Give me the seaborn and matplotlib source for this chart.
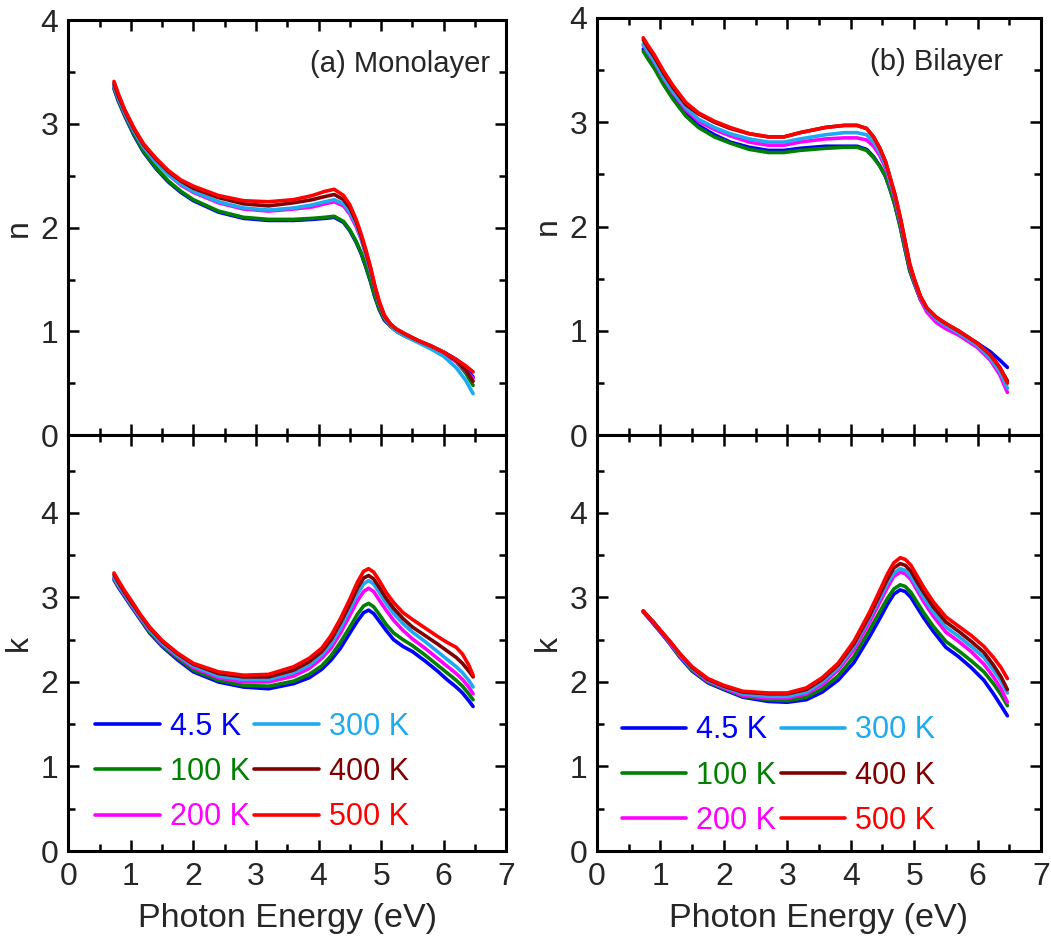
#!/usr/bin/env python3
"""
Temperature dependent n and k of monolayer / bilayer films
"""

import pandas as pd
import matplotlib
matplotlib.use("Agg")
import matplotlib.pyplot as plt
from matplotlib.ticker import MultipleLocator
import seaborn as sns

sns.set_theme(style="ticks")
plt.rcParams['font.family'] = ['Liberation Sans', 'DejaVu Sans']

TEMPS = ["4.5 K", "100 K", "200 K", "300 K", "400 K", "500 K"]
COLORS = ["#0000ff", "#008000", "#ff00ff", "#1eaaf1", "#800000", "#ff0000"]

# ---- (a) Monolayer, n ----
mono_n_x = [0.73, 0.8, 0.9, 1.05, 1.2, 1.4, 1.6, 1.8, 2.0, 2.4, 2.8, 3.2, 3.6, 3.9, 4.1, 4.25,
            4.4, 4.5, 4.6, 4.68, 4.75, 4.83, 4.9, 4.97, 5.05, 5.15, 5.25, 5.4, 5.6, 5.8,
            6.0, 6.2, 6.35, 6.47]
mono_n_4p5 = [3.34, 3.22, 3.08, 2.89, 2.73, 2.57, 2.44, 2.34, 2.26, 2.15, 2.09, 2.07, 2.07, 2.08,
              2.09, 2.10, 2.05, 1.97, 1.86, 1.75, 1.63, 1.48, 1.33, 1.21, 1.11, 1.05, 1.00,
              0.95, 0.90, 0.85, 0.80, 0.73, 0.65, 0.56]
mono_n_100 = [3.35, 3.23, 3.09, 2.90, 2.74, 2.58, 2.45, 2.35, 2.27, 2.16, 2.10, 2.08, 2.08, 2.09,
              2.10, 2.11, 2.06, 1.98, 1.87, 1.76, 1.64, 1.49, 1.34, 1.22, 1.12, 1.05, 1.00,
              0.95, 0.90, 0.85, 0.79, 0.71, 0.60, 0.48]
mono_n_200 = [3.37, 3.25, 3.11, 2.93, 2.78, 2.63, 2.51, 2.41, 2.34, 2.24, 2.18, 2.16, 2.18, 2.20,
              2.23, 2.25, 2.21, 2.13, 2.01, 1.89, 1.75, 1.58, 1.42, 1.27, 1.14, 1.06, 1.01,
              0.96, 0.90, 0.85, 0.79, 0.71, 0.62, 0.55]
mono_n_300 = [3.37, 3.25, 3.11, 2.93, 2.78, 2.63, 2.51, 2.42, 2.35, 2.25, 2.19, 2.17, 2.19, 2.22,
              2.25, 2.27, 2.23, 2.15, 2.03, 1.90, 1.76, 1.59, 1.42, 1.27, 1.14, 1.06, 1.00,
              0.95, 0.89, 0.83, 0.76, 0.65, 0.53, 0.40]
mono_n_400 = [3.39, 3.27, 3.13, 2.95, 2.80, 2.66, 2.54, 2.45, 2.38, 2.29, 2.23, 2.21, 2.24, 2.27,
              2.30, 2.32, 2.27, 2.19, 2.06, 1.92, 1.78, 1.61, 1.43, 1.28, 1.15, 1.07, 1.02,
              0.97, 0.91, 0.86, 0.80, 0.72, 0.63, 0.52]
mono_n_500 = [3.41, 3.29, 3.14, 2.96, 2.81, 2.67, 2.55, 2.46, 2.40, 2.31, 2.26, 2.25, 2.27, 2.31,
              2.35, 2.37, 2.31, 2.22, 2.08, 1.94, 1.80, 1.62, 1.44, 1.29, 1.16, 1.07, 1.02,
              0.97, 0.91, 0.86, 0.80, 0.73, 0.67, 0.61]

# ---- (a) Monolayer, k ----
mono_k_x = [0.73, 0.8, 0.9, 1.0, 1.15, 1.3, 1.5, 1.75, 2.0, 2.4, 2.8, 3.2, 3.6, 3.85, 4.05, 4.2,
            4.35, 4.5, 4.62, 4.72, 4.8, 4.88, 4.97, 5.08, 5.2, 5.35, 5.5, 5.7, 5.9, 6.05,
            6.2, 6.3, 6.4, 6.47]
mono_k_4p5 = [3.21, 3.12, 3.01, 2.90, 2.74, 2.58, 2.42, 2.26, 2.12, 2.00, 1.94, 1.92, 1.98, 2.05,
              2.15, 2.26, 2.40, 2.58, 2.72, 2.82, 2.85, 2.81, 2.72, 2.61, 2.50, 2.42, 2.36,
              2.25, 2.13, 2.03, 1.94, 1.87, 1.78, 1.71]
mono_k_100 = [3.22, 3.13, 3.02, 2.91, 2.75, 2.59, 2.43, 2.28, 2.14, 2.02, 1.96, 1.95, 2.01, 2.09,
              2.19, 2.31, 2.47, 2.65, 2.80, 2.90, 2.93, 2.89, 2.80, 2.68, 2.58, 2.50, 2.43,
              2.32, 2.20, 2.11, 2.02, 1.95, 1.86, 1.79]
mono_k_200 = [3.23, 3.14, 3.03, 2.92, 2.76, 2.61, 2.45, 2.30, 2.17, 2.05, 2.00, 2.00, 2.07, 2.16,
              2.28, 2.40, 2.58, 2.79, 2.96, 3.07, 3.11, 3.07, 2.97, 2.85, 2.73, 2.61, 2.51,
              2.40, 2.28, 2.19, 2.10, 2.03, 1.94, 1.86]
mono_k_300 = [3.24, 3.15, 3.04, 2.93, 2.77, 2.62, 2.46, 2.31, 2.19, 2.07, 2.03, 2.03, 2.11, 2.20,
              2.32, 2.45, 2.64, 2.86, 3.04, 3.16, 3.20, 3.16, 3.06, 2.93, 2.81, 2.69, 2.59,
              2.48, 2.36, 2.27, 2.18, 2.11, 2.02, 1.94]
mono_k_400 = [3.27, 3.18, 3.06, 2.95, 2.79, 2.64, 2.48, 2.33, 2.21, 2.10, 2.06, 2.06, 2.14, 2.24,
              2.36, 2.50, 2.70, 2.92, 3.11, 3.23, 3.26, 3.22, 3.12, 2.99, 2.87, 2.75, 2.65,
              2.55, 2.45, 2.37, 2.29, 2.22, 2.13, 2.06]
mono_k_500 = [3.29, 3.20, 3.08, 2.97, 2.80, 2.65, 2.49, 2.34, 2.22, 2.12, 2.08, 2.09, 2.18, 2.28,
              2.40, 2.55, 2.75, 2.98, 3.18, 3.31, 3.34, 3.30, 3.20, 3.06, 2.94, 2.82, 2.74,
              2.64, 2.54, 2.47, 2.41, 2.33, 2.20, 2.08]

# ---- (b) Bilayer, n ----
bi_n_x = [0.73, 0.8, 0.9, 1.05, 1.2, 1.4, 1.6, 1.85, 2.1, 2.4, 2.7, 2.95, 3.2, 3.6, 3.9, 4.1,
          4.25, 4.36, 4.46, 4.55, 4.63, 4.7, 4.78, 4.85, 4.93, 5.0, 5.1, 5.2, 5.35, 5.5,
          5.7, 6.0, 6.2, 6.35, 6.47]
bi_n_4p5 = [3.70, 3.63, 3.54, 3.38, 3.24, 3.08, 2.97, 2.88, 2.81, 2.76, 2.73, 2.73, 2.75, 2.77,
            2.77, 2.77, 2.74, 2.67, 2.58, 2.48, 2.34, 2.20, 2.00, 1.80, 1.58, 1.46, 1.30,
            1.20, 1.10, 1.04, 0.98, 0.88, 0.80, 0.72, 0.65]
bi_n_100 = [3.68, 3.61, 3.52, 3.36, 3.22, 3.06, 2.95, 2.86, 2.80, 2.74, 2.71, 2.71, 2.73, 2.75,
            2.76, 2.76, 2.73, 2.66, 2.58, 2.48, 2.34, 2.20, 2.00, 1.80, 1.58, 1.46, 1.30,
            1.20, 1.10, 1.04, 0.98, 0.86, 0.75, 0.63, 0.50]
bi_n_200 = [3.74, 3.67, 3.58, 3.42, 3.28, 3.12, 3.01, 2.93, 2.87, 2.81, 2.78, 2.78, 2.81, 2.84,
            2.85, 2.85, 2.83, 2.77, 2.68, 2.56, 2.40, 2.26, 2.05, 1.85, 1.62, 1.48, 1.30,
            1.18, 1.08, 1.02, 0.96, 0.84, 0.72, 0.58, 0.41]
bi_n_300 = [3.75, 3.68, 3.59, 3.43, 3.29, 3.14, 3.03, 2.95, 2.89, 2.84, 2.81, 2.81, 2.84, 2.88,
            2.90, 2.90, 2.88, 2.81, 2.71, 2.59, 2.42, 2.28, 2.07, 1.86, 1.63, 1.49, 1.32,
            1.21, 1.11, 1.05, 0.98, 0.86, 0.74, 0.61, 0.45]
bi_n_400 = [3.79, 3.72, 3.63, 3.47, 3.33, 3.17, 3.08, 3.00, 2.94, 2.89, 2.86, 2.86, 2.90, 2.95,
            2.97, 2.97, 2.94, 2.86, 2.75, 2.62, 2.45, 2.30, 2.09, 1.88, 1.64, 1.50, 1.33,
            1.22, 1.13, 1.07, 1.00, 0.88, 0.77, 0.65, 0.52]
bi_n_500 = [3.81, 3.74, 3.65, 3.49, 3.35, 3.19, 3.09, 3.01, 2.95, 2.89, 2.86, 2.86, 2.90, 2.95,
            2.97, 2.97, 2.94, 2.86, 2.75, 2.62, 2.45, 2.30, 2.09, 1.88, 1.64, 1.50, 1.33,
            1.22, 1.13, 1.07, 1.00, 0.88, 0.77, 0.65, 0.50]

# ---- (b) Bilayer, k ----
bi_k_x = [0.73, 0.8, 0.9, 1.0, 1.15, 1.3, 1.5, 1.75, 2.0, 2.3, 2.7, 3.0, 3.3, 3.55, 3.8, 4.05,
          4.3, 4.45, 4.58, 4.68, 4.78, 4.86, 4.95, 5.05, 5.15, 5.3, 5.5, 5.7, 5.9, 6.1,
          6.25, 6.37, 6.47]
bi_k_4p5 = [2.83, 2.77, 2.68, 2.59, 2.45, 2.30, 2.13, 1.99, 1.91, 1.82, 1.77, 1.76, 1.79, 1.88,
            2.02, 2.23, 2.54, 2.74, 2.92, 3.04, 3.09, 3.07, 3.00, 2.88, 2.76, 2.60, 2.41,
            2.30, 2.17, 2.02, 1.86, 1.72, 1.60]
bi_k_100 = [2.83, 2.77, 2.69, 2.60, 2.46, 2.31, 2.14, 2.00, 1.92, 1.83, 1.79, 1.78, 1.82, 1.92,
            2.07, 2.30, 2.62, 2.82, 2.99, 3.10, 3.15, 3.13, 3.06, 2.94, 2.82, 2.66, 2.48,
            2.37, 2.25, 2.12, 1.98, 1.85, 1.72]
bi_k_200 = [2.83, 2.77, 2.69, 2.60, 2.46, 2.32, 2.15, 2.01, 1.93, 1.84, 1.81, 1.81, 1.86, 1.97,
            2.14, 2.38, 2.71, 2.93, 3.12, 3.25, 3.30, 3.28, 3.21, 3.08, 2.95, 2.78, 2.59,
            2.48, 2.36, 2.21, 2.06, 1.92, 1.76]
bi_k_300 = [2.84, 2.78, 2.70, 2.61, 2.47, 2.33, 2.16, 2.02, 1.94, 1.86, 1.83, 1.83, 1.88, 2.00,
            2.17, 2.42, 2.76, 2.98, 3.17, 3.29, 3.34, 3.32, 3.25, 3.12, 3.00, 2.83, 2.65,
            2.54, 2.42, 2.29, 2.14, 2.01, 1.87]
bi_k_400 = [2.84, 2.78, 2.70, 2.61, 2.48, 2.34, 2.17, 2.03, 1.95, 1.88, 1.86, 1.86, 1.91, 2.03,
            2.20, 2.45, 2.79, 3.02, 3.22, 3.35, 3.40, 3.38, 3.31, 3.18, 3.06, 2.89, 2.71,
            2.60, 2.48, 2.35, 2.20, 2.06, 1.91]
bi_k_500 = [2.84, 2.78, 2.70, 2.61, 2.48, 2.34, 2.18, 2.04, 1.96, 1.89, 1.87, 1.87, 1.93, 2.05,
            2.22, 2.48, 2.83, 3.07, 3.28, 3.41, 3.47, 3.45, 3.38, 3.25, 3.12, 2.95, 2.77,
            2.66, 2.55, 2.42, 2.29, 2.17, 2.04]


def to_frame(x, series):
    rows = []
    for temp, vals in zip(TEMPS, series):
        for xi, yi in zip(x, vals):
            rows.append({"E": xi, "val": yi, "T": temp})
    return pd.DataFrame(rows)


df_mono_n = to_frame(mono_n_x, [mono_n_4p5, mono_n_100, mono_n_200, mono_n_300, mono_n_400, mono_n_500])
df_mono_k = to_frame(mono_k_x, [mono_k_4p5, mono_k_100, mono_k_200, mono_k_300, mono_k_400, mono_k_500])
df_bi_n = to_frame(bi_n_x, [bi_n_4p5, bi_n_100, bi_n_200, bi_n_300, bi_n_400, bi_n_500])
df_bi_k = to_frame(bi_k_x, [bi_k_4p5, bi_k_100, bi_k_200, bi_k_300, bi_k_400, bi_k_500])

palette = dict(zip(TEMPS, COLORS))

fig = plt.figure(figsize=(10.51, 9.44), dpi=100)
ax_an = fig.add_axes([0.065, 0.539, 0.4167, 0.4396])
ax_ak = fig.add_axes([0.065, 0.0985, 0.4167, 0.4405])
ax_bn = fig.add_axes([0.568, 0.539, 0.4225, 0.4420])
ax_bk = fig.add_axes([0.568, 0.0985, 0.4225, 0.4405])


def style(ax, top_panel):
    ax.set_xlim(0, 7)
    ax.xaxis.set_major_locator(MultipleLocator(1))
    ax.xaxis.set_minor_locator(MultipleLocator(0.5))
    ax.yaxis.set_major_locator(MultipleLocator(1))
    ax.yaxis.set_minor_locator(MultipleLocator(0.5))
    if top_panel:
        ax.set_ylim(0, 4)
    else:
        ax.set_ylim(0, 4.92)
        ax.set_yticks([0, 1, 2, 3, 4])
    ax.tick_params(which='both', direction='in', top=True, right=True, width=1.8,
                   labelsize=23, pad=7, color='black')
    ax.tick_params(which='major', length=8)
    ax.tick_params(which='minor', length=5)
    for sp in ax.spines.values():
        sp.set_linewidth(2.2)
        sp.set_color('black')
    if top_panel:
        ax.tick_params(axis='x', labelbottom=False)
        ax.set_xlabel("")
    else:
        ax.tick_params(axis='x', pad=8)
        ax.set_xlabel("Photon Energy (eV)", fontsize=24.5, labelpad=8)


panels = [(ax_an, df_mono_n, True, "n", None), (ax_ak, df_mono_k, False, "k", (0.041, 0.023)),
          (ax_bn, df_bi_n, True, "n", None), (ax_bk, df_bi_k, False, "k", (0.035, 0.014))]

for ax, df, top_panel, ylab, anchor in panels:
    sns.lineplot(data=df, x="E", y="val", hue="T", hue_order=TEMPS, palette=palette,
                 linewidth=2.6, sort=True, ax=ax, legend=not top_panel)
    style(ax, top_panel)
    ax.set_ylabel(ylab, fontsize=23, labelpad=5)
    if not top_panel:
        handles, labels = ax.get_legend_handles_labels()
        leg = ax.legend(handles, labels, ncol=2, loc='lower left', bbox_to_anchor=anchor,
                        frameon=False, fontsize=22, handlelength=2.1, handletextpad=0.33,
                        columnspacing=0.15, labelspacing=0.5, borderaxespad=0, borderpad=0.3)
        for line in leg.get_lines():
            line.set_linewidth(2.6)
        for txt, c in zip(leg.get_texts(), COLORS):
            txt.set_color(c)

ax_an.text(0.963, 0.895, "(a) Monolayer", transform=ax_an.transAxes, ha='right', va='center',
           fontsize=21)
ax_bn.text(0.914, 0.895, "(b) Bilayer", transform=ax_bn.transAxes, ha='right', va='center',
           fontsize=21)

plt.savefig("out.png", dpi=100)
plt.close()
